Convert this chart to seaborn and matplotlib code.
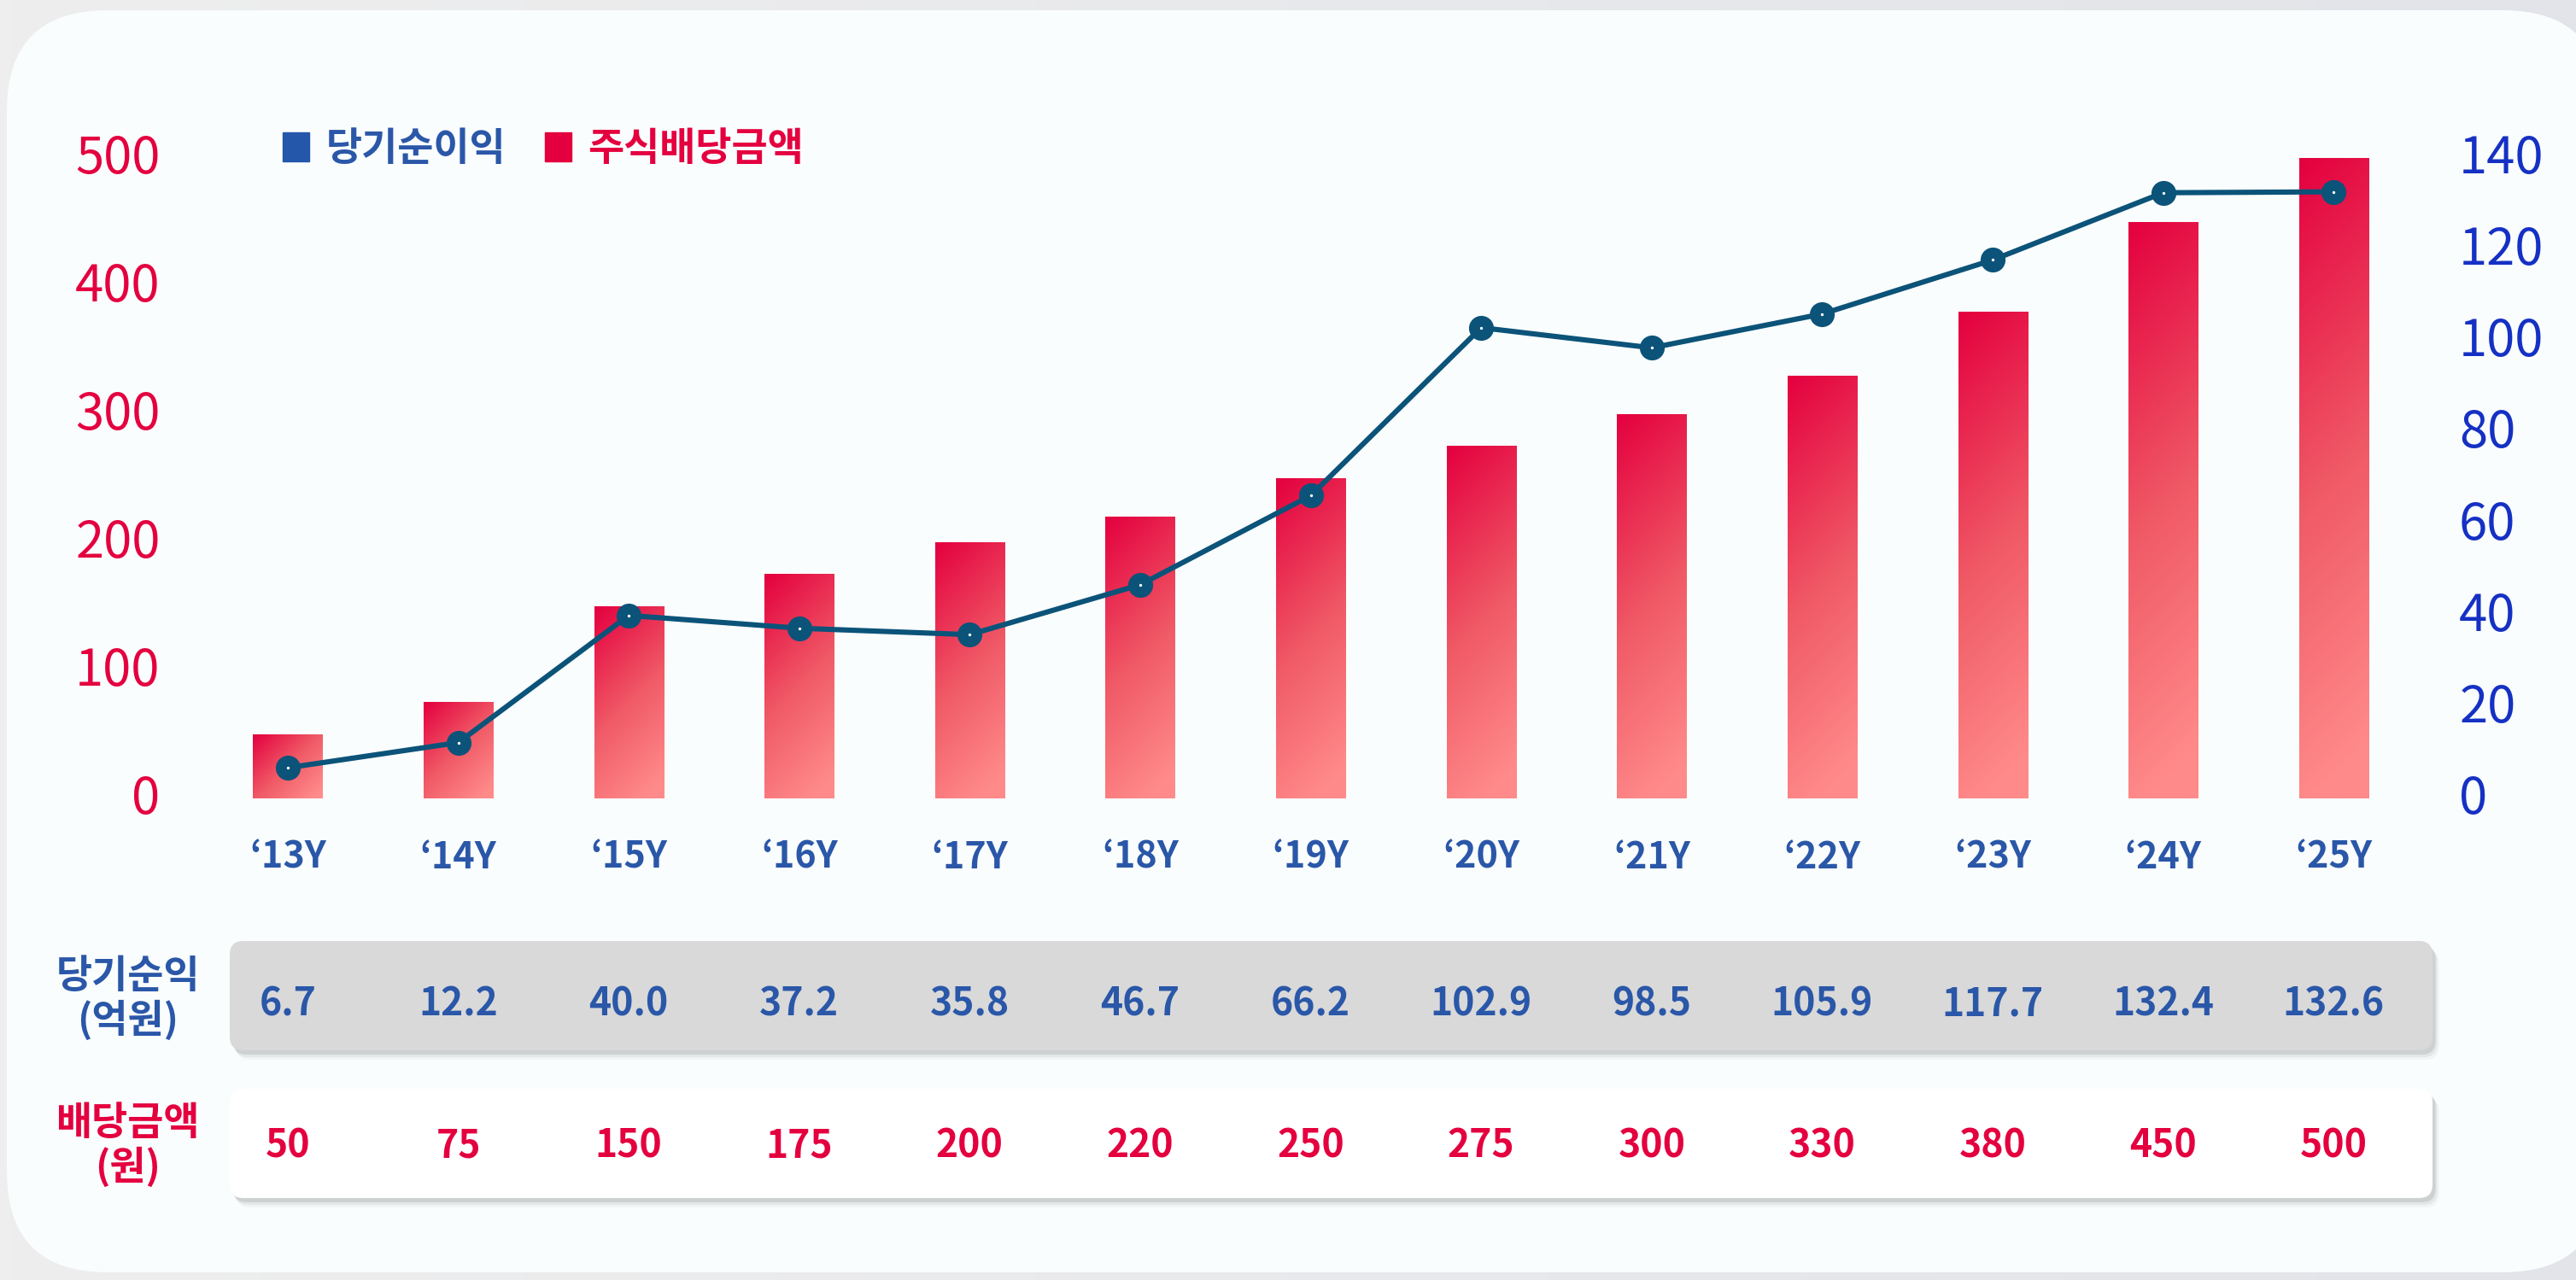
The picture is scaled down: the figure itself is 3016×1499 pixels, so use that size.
import numpy as np
import matplotlib
matplotlib.use("Agg")
import matplotlib.pyplot as plt
import matplotlib.transforms as mtransforms
from matplotlib.patches import FancyBboxPatch, Patch
from matplotlib.colors import LinearSegmentedColormap
import seaborn as sns

# chart data
years = ["‘13Y", "‘14Y", "‘15Y", "‘16Y", "‘17Y", "‘18Y", "‘19Y",
         "‘20Y", "‘21Y", "‘22Y", "‘23Y", "‘24Y", "‘25Y"]
net_income = [6.7, 12.2, 40.0, 37.2, 35.8, 46.7, 66.2, 102.9, 98.5, 105.9, 117.7, 132.4, 132.6]
dividend = [50, 75, 150, 175, 200, 220, 250, 275, 300, 330, 380, 450, 500]
left_ticks = [0, 100, 200, 300, 400, 500]
right_ticks = [0, 20, 40, 60, 80, 100, 120, 140]
legend_labels = ["당기순이익", "주식배당금액"]
row_labels = ["당기순익\n(억원)", "배당금액\n(원)"]

RED = "#E4003F"
BLUE = "#2A57A8"
AXIS_BLUE = "#1531C4"
LINE = "#0B5379"

sns.set_theme(style="white")
plt.rcParams["font.family"] = ["Noto Sans CJK KR", "DejaVu Sans"]

W, H = 3016, 1499
fig = plt.figure(figsize=(W / 100, H / 100), dpi=100)
fig.patch.set_facecolor("#ECEDEF")

# background layer in pixel coordinates (y down)
bg = fig.add_axes([0, 0, 1, 1], zorder=-10)
bg_cmap = LinearSegmentedColormap.from_list("bg", ["#EEEEEE", "#E2E4E9"])
bg.imshow(np.linspace(0, 1, 256)[None, :], cmap=bg_cmap, extent=[0, W, H, 0], aspect="auto")
bg.add_patch(FancyBboxPatch((8, 12), 3040, 1478, boxstyle="round,pad=0,rounding_size=118",
                            fc="#FAFDFD", ec="none"))


def panel(y0, y1, color):
    x0, x1 = 269, 2848
    for k, a in [(11, 0.04), (8, 0.07), (5, 0.12)]:
        bg.add_patch(FancyBboxPatch((x0 + k * 0.7, y0 + k), x1 - x0, y1 - y0,
                                    boxstyle="round,pad=0,rounding_size=16",
                                    fc="#333333", alpha=a, ec="none"))
    bg.add_patch(FancyBboxPatch((x0, y0), x1 - x0, y1 - y0,
                                boxstyle="round,pad=0,rounding_size=16", fc=color, ec="none"))


panel(1102, 1230, "#D9D9D9")
panel(1275, 1403, "#FFFFFF")
bg.set_xlim(0, W)
bg.set_ylim(H, 0)
bg.axis("off")

# main axes
ax_h_px = 750
ax = fig.add_axes([200 / W, 1 - 935 / H, (2868 - 200) / W, ax_h_px / H])
ax.patch.set_alpha(0)
sns.barplot(x=years, y=dividend, ax=ax, width=0.406, color=RED, saturation=1)

# diagonal gradient per bar (top-left red -> bottom-right salmon, in pixel space)
bar_cmap = LinearSegmentedColormap.from_list(
    "bar", [(0, "#E4003F"), (0.5, "#F05A66"), (0.92, "#FF8A8A"), (1, "#FF8A8A")])
uu, vv = np.meshgrid(np.linspace(0, 1, 64), np.linspace(0, 1, 256))
xspan = 12.68 + 0.686
px_per_x = (2868 - 200) / xspan
for bar in list(ax.patches):
    x0, w, h = bar.get_x(), bar.get_width(), bar.get_height()
    w_px = w * px_per_x
    h_px = h / 500 * ax_h_px
    shade = (uu * w_px + vv * h_px) / (w_px + h_px)
    ax.imshow(shade, cmap=bar_cmap, vmin=0, vmax=1, extent=[x0, x0 + w, 0, h],
              origin="upper", aspect="auto", zorder=2)
    bar.set_facecolor("none")
    bar.set_edgecolor("none")

ax2 = ax.twinx()
xs = np.arange(len(years))
sns.lineplot(x=xs, y=net_income, ax=ax2, color=LINE, lw=4.4, marker="o",
             markersize=21, markeredgewidth=0, clip_on=False)
ax2.scatter(xs, net_income, s=2, color="white", zorder=5, clip_on=False)

ax.set_xlim(-0.686, 12.68)
ax.set_ylim(0, 500)
ax2.set_ylim(0, 140)
ax.set_yticks(left_ticks)
ax2.set_yticks(right_ticks)
ax.set_xticks(xs)
ax.set_xticklabels(years, fontsize=31, fontweight="bold", color=BLUE, va="baseline")
ax.tick_params(axis="x", length=0, pad=59)
ax.tick_params(axis="y", length=0, pad=9, labelsize=43, labelcolor=RED)
ax2.tick_params(axis="y", length=0, pad=8, labelsize=43, labelcolor=AXIS_BLUE)
ax.set_xlabel("")
ax.set_ylabel("")
ax2.set_ylabel("")
for a in (ax, ax2):
    for s in a.spines.values():
        s.set_visible(False)
    a.grid(False)
# lift the y tick labels a little so the digits sit centred on their values
for lab in ax.get_yticklabels() + ax2.get_yticklabels():
    lab.set_transform(lab.get_transform() + mtransforms.ScaledTranslation(0, 4 / 72, fig.dpi_scale_trans))

# legend
handles = [Patch(color="#2457AA"), Patch(color=RED)]
leg = fig.legend(handles, legend_labels, loc="center left",
                 bbox_to_anchor=(331 / W, 1 - 175 / H), ncol=2, frameon=False,
                 fontsize=33, handlelength=0.68, handleheight=0.74, handletextpad=0.42,
                 columnspacing=1.0, borderpad=0, borderaxespad=0)
for t, c in zip(leg.get_texts(), [BLUE, RED]):
    t.set_color(c)
    t.set_fontweight("bold")

# table rows under the chart
trans = mtransforms.blended_transform_factory(ax.transData, fig.transFigure)
for i, (ni, dv) in enumerate(zip(net_income, dividend)):
    ax.text(i, 1 - 1190 / H, f"{ni:.1f}", transform=trans, ha="center", va="baseline",
            fontsize=32, fontweight="bold", color=BLUE)
    ax.text(i, 1 - 1355 / H, f"{dv}", transform=trans, ha="center", va="baseline",
            fontsize=32, fontweight="bold", color=RED)

fig.text(150 / W, 1 - 1170 / H, row_labels[0], ha="center", va="center", fontsize=33,
         fontweight="bold", color=BLUE, linespacing=1.1)
fig.text(150 / W, 1 - 1342 / H, row_labels[1], ha="center", va="center", fontsize=33,
         fontweight="bold", color=RED, linespacing=1.1)

fig.savefig("out.png", dpi=100, facecolor=fig.get_facecolor())
